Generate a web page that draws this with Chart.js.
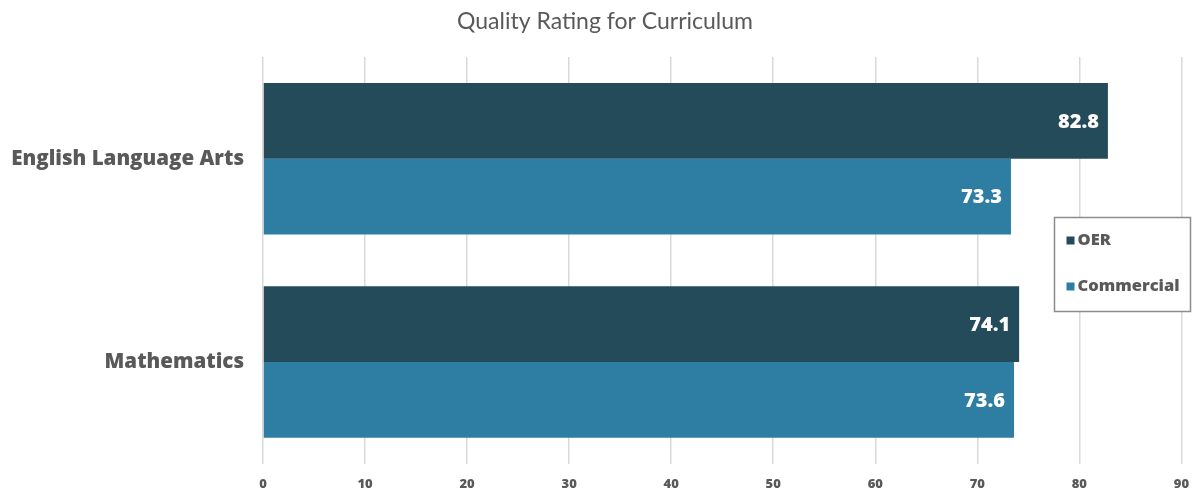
<!DOCTYPE html>
<html>
<head>
<meta charset="utf-8">
<script src="https://cdn.jsdelivr.net/npm/chart.js@4/dist/chart.umd.min.js"></script>
<style>
  html, body { margin: 0; padding: 0; background: #ffffff; }
  #wrap { width: 1202px; height: 495px; }
</style>
</head>
<body>
<div id="wrap"><canvas id="c" width="1202" height="495"></canvas></div>
<script>
const categories = ['English Language Arts', 'Mathematics'];
const oerValues = [82.8, 74.1];
const commercialValues = [73.3, 73.6];
const xTicks = [0, 10, 20, 30, 40, 50, 60, 70, 80, 90];
const chartTitle = 'Quality Rating for Curriculum';

const OER_COLOR = '#244b5a';
const COMMERCIAL_COLOR = '#2e7ea3';
const TEXT_GRAY = '#595959';
const TITLE_FONT = 'Lato, "Open Sans", sans-serif';
const BOLD_FONT = '"Open Sans", Lato, sans-serif';

// Title centred on the whole canvas, above the plot
const centeredTitle = {
  id: 'centeredTitle',
  afterDraw(chart) {
    const ctx = chart.ctx;
    ctx.save();
    ctx.fillStyle = TEXT_GRAY;
    ctx.font = '23px ' + TITLE_FONT;
    ctx.textAlign = 'center';
    ctx.textBaseline = 'middle';
    ctx.fillText(chartTitle, chart.width / 2 + 4, 22);
    ctx.restore();
  }
};

// White value labels drawn just inside the end of each bar
const barValueLabels = {
  id: 'barValueLabels',
  afterDatasetsDraw(chart) {
    const ctx = chart.ctx;
    ctx.save();
    ctx.fillStyle = '#ffffff';
    ctx.font = '800 20px ' + BOLD_FONT;
    ctx.textAlign = 'right';
    ctx.textBaseline = 'middle';
    chart.data.datasets.forEach((ds, i) => {
      const meta = chart.getDatasetMeta(i);
      meta.data.forEach((el, j) => {
        ctx.fillText(ds.data[j].toFixed(1), el.x - 9, el.y + 1);
      });
    });
    ctx.restore();
  }
};

// Boxed legend sitting over the right side of the plot
const boxedLegend = {
  id: 'boxedLegend',
  afterDraw(chart) {
    const ctx = chart.ctx;
    const x = 1054.5, y = 217.5, w = 136, h = 94;
    ctx.save();
    ctx.fillStyle = '#ffffff';
    ctx.fillRect(x, y, w, h);
    ctx.strokeStyle = '#8c8c8c';
    ctx.lineWidth = 1.5;
    ctx.strokeRect(x, y, w, h);
    ctx.font = '800 16.5px ' + BOLD_FONT;
    ctx.textBaseline = 'middle';
    ctx.textAlign = 'left';
    chart.data.datasets.forEach((ds, i) => {
      const cy = y + 23 + i * 46;
      ctx.fillStyle = ds.backgroundColor;
      ctx.fillRect(x + 12, cy - 4, 8, 8);
      ctx.fillStyle = TEXT_GRAY;
      ctx.fillText(ds.label, x + 23, cy);
    });
    ctx.restore();
  }
};

new Chart(document.getElementById('c'), {
  type: 'bar',
  data: {
    labels: categories,
    datasets: [
      { label: 'OER', data: oerValues, backgroundColor: OER_COLOR },
      { label: 'Commercial', data: commercialValues, backgroundColor: COMMERCIAL_COLOR }
    ]
  },
  options: {
    indexAxis: 'y',
    responsive: false,
    animation: false,
    layout: { padding: { left: 0, right: 20, top: 57, bottom: 0 } },
    datasets: { bar: { categoryPercentage: 0.745, barPercentage: 1.0 } },
    plugins: {
      legend: { display: false },
      tooltip: { enabled: false },
      title: { display: false }
    },
    scales: {
      x: {
        min: 0,
        max: 90,
        afterBuildTicks(scale) { scale.ticks = xTicks.map(v => ({ value: v })); },
        afterFit(scale) { scale.height = 27; },
        grid: { color: '#d9d9d9', lineWidth: 1.5, drawTicks: false },
        border: { display: false },
        ticks: {
          color: TEXT_GRAY,
          padding: 13,
          font: { family: BOLD_FONT, size: 13, weight: '800' }
        }
      },
      y: {
        afterFit(scale) { scale.width = 263; },
        grid: { display: false, drawTicks: false },
        border: { display: false },
        ticks: {
          color: TEXT_GRAY,
          padding: 19,
          font: { family: BOLD_FONT, size: 20.5, weight: '800' }
        }
      }
    }
  },
  plugins: [centeredTitle, barValueLabels, boxedLegend]
});
</script>
</body>
</html>
